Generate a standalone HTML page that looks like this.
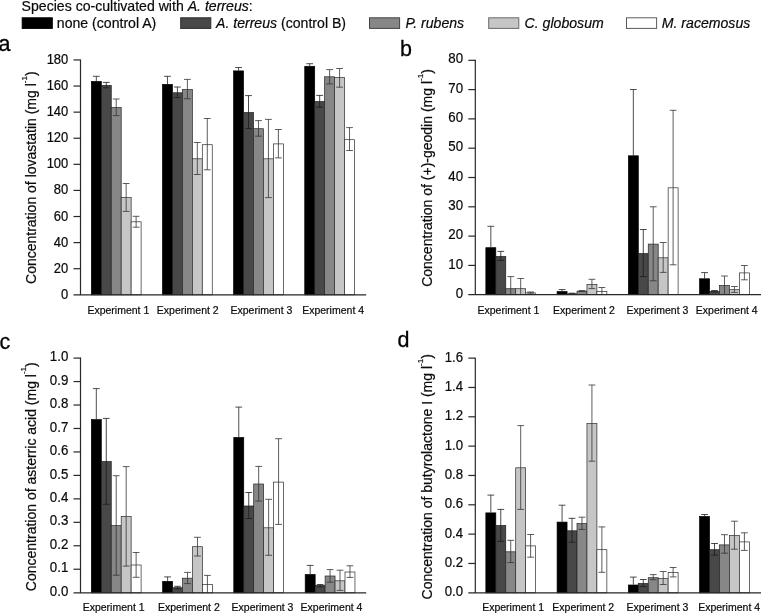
<!DOCTYPE html>
<html lang="en"><head><meta charset="utf-8"><title>Figure</title>
<style>html,body{margin:0;padding:0;background:#fff;}body{width:761px;height:614px;overflow:hidden;}svg{display:block;}text{font-family:"Liberation Sans",sans-serif;fill:#0a0a0a;stroke:#0a0a0a;stroke-width:0.2px;}.i{font-style:italic;}</style></head><body>
<svg width="761" height="614" viewBox="0 0 761 614">
<rect width="761" height="614" fill="#fff"/>
<text x="21.6" y="10.7" font-size="14.1">Species co-cultivated with <tspan class="i">A. terreus</tspan>:</text>
<rect x="22.2" y="17.8" width="30.1" height="10.6" fill="#000000" stroke="#000000" stroke-width="1"/>
<text x="56.8" y="27.5" font-size="14.1">none (control A)</text>
<rect x="180.7" y="17.8" width="30.1" height="10.6" fill="#484848" stroke="#2c2c2c" stroke-width="1"/>
<text x="216.0" y="27.5" font-size="14.1"><tspan class="i">A. terreus</tspan> (control B)</text>
<rect x="369.5" y="17.8" width="30.1" height="10.6" fill="#878787" stroke="#444444" stroke-width="1"/>
<text x="405.6" y="27.5" font-size="14.1"><tspan class="i">P. rubens</tspan></text>
<rect x="488.7" y="17.8" width="30.1" height="10.6" fill="#c6c6c6" stroke="#6a6a6a" stroke-width="1"/>
<text x="524.6" y="27.5" font-size="14.1"><tspan class="i">C. globosum</tspan></text>
<rect x="626.5" y="17.8" width="30.1" height="10.6" fill="#ffffff" stroke="#5a5a5a" stroke-width="1"/>
<text x="661.8" y="27.5" font-size="14.1"><tspan class="i">M. racemosus</tspan></text>
<g id="chart-a">
<text x="-1.4" y="51.2" font-size="21.5" style="fill:#000;stroke:#000;stroke-width:0.28px">a</text>
<rect x="91.35" y="81.40" width="9.95" height="213.40" fill="#000000" stroke="#000000" stroke-width="0.7"/>
<rect x="101.30" y="85.40" width="9.95" height="209.40" fill="#484848" stroke="#1c1c1c" stroke-width="0.7"/>
<rect x="111.25" y="107.50" width="9.95" height="187.30" fill="#878787" stroke="#262626" stroke-width="0.7"/>
<rect x="121.20" y="197.60" width="9.95" height="97.20" fill="#c6c6c6" stroke="#2c2c2c" stroke-width="0.7"/>
<rect x="131.15" y="221.80" width="9.95" height="73.00" fill="#ffffff" stroke="#2c2c2c" stroke-width="0.7"/>
<path d="M96.32 76.30V81.10M92.92 76.30H99.72" stroke="#222" stroke-width="0.8" fill="none"/>
<path d="M106.27 82.40V87.80M102.87 82.40H109.67M102.87 87.80H109.67" stroke="#1c1c1c" stroke-width="0.8" fill="none"/>
<path d="M116.22 99.00V115.60M112.82 99.00H119.62M112.82 115.60H119.62" stroke="#333333" stroke-width="0.8" fill="none"/>
<path d="M126.17 183.50V211.40M122.77 183.50H129.57M122.77 211.40H129.57" stroke="#363636" stroke-width="0.8" fill="none"/>
<path d="M136.12 216.30V227.20M132.72 216.30H139.52M132.72 227.20H139.52" stroke="#333333" stroke-width="0.8" fill="none"/>
<rect x="162.50" y="84.40" width="9.95" height="210.40" fill="#000000" stroke="#000000" stroke-width="0.7"/>
<rect x="172.45" y="92.80" width="9.95" height="202.00" fill="#484848" stroke="#1c1c1c" stroke-width="0.7"/>
<rect x="182.40" y="89.60" width="9.95" height="205.20" fill="#878787" stroke="#262626" stroke-width="0.7"/>
<rect x="192.35" y="158.80" width="9.95" height="136.00" fill="#c6c6c6" stroke="#2c2c2c" stroke-width="0.7"/>
<rect x="202.30" y="144.70" width="9.95" height="150.10" fill="#ffffff" stroke="#2c2c2c" stroke-width="0.7"/>
<path d="M167.47 76.30V84.10M164.07 76.30H170.88" stroke="#222" stroke-width="0.8" fill="none"/>
<path d="M177.42 87.00V97.50M174.02 87.00H180.82M174.02 97.50H180.82" stroke="#1c1c1c" stroke-width="0.8" fill="none"/>
<path d="M187.38 79.40V98.80M183.97 79.40H190.78M183.97 98.80H190.78" stroke="#333333" stroke-width="0.8" fill="none"/>
<path d="M197.32 142.50V174.50M193.92 142.50H200.72M193.92 174.50H200.72" stroke="#363636" stroke-width="0.8" fill="none"/>
<path d="M207.28 118.50V169.80M203.88 118.50H210.68M203.88 169.80H210.68" stroke="#333333" stroke-width="0.8" fill="none"/>
<rect x="233.60" y="70.90" width="9.95" height="223.90" fill="#000000" stroke="#000000" stroke-width="0.7"/>
<rect x="243.55" y="112.50" width="9.95" height="182.30" fill="#484848" stroke="#1c1c1c" stroke-width="0.7"/>
<rect x="253.50" y="128.70" width="9.95" height="166.10" fill="#878787" stroke="#262626" stroke-width="0.7"/>
<rect x="263.45" y="158.80" width="9.95" height="136.00" fill="#c6c6c6" stroke="#2c2c2c" stroke-width="0.7"/>
<rect x="273.40" y="143.90" width="9.95" height="150.90" fill="#ffffff" stroke="#2c2c2c" stroke-width="0.7"/>
<path d="M238.57 67.50V70.60M235.17 67.50H241.97" stroke="#222" stroke-width="0.8" fill="none"/>
<path d="M248.52 95.60V128.60M245.12 95.60H251.92M245.12 128.60H251.92" stroke="#1c1c1c" stroke-width="0.8" fill="none"/>
<path d="M258.48 120.60V136.20M255.08 120.60H261.88M255.08 136.20H261.88" stroke="#333333" stroke-width="0.8" fill="none"/>
<path d="M268.43 119.40V197.60M265.03 119.40H271.82M265.03 197.60H271.82" stroke="#363636" stroke-width="0.8" fill="none"/>
<path d="M278.38 129.50V157.90M274.98 129.50H281.77M274.98 157.90H281.77" stroke="#333333" stroke-width="0.8" fill="none"/>
<rect x="304.75" y="66.30" width="9.95" height="228.50" fill="#000000" stroke="#000000" stroke-width="0.7"/>
<rect x="314.70" y="101.60" width="9.95" height="193.20" fill="#484848" stroke="#1c1c1c" stroke-width="0.7"/>
<rect x="324.65" y="76.80" width="9.95" height="218.00" fill="#878787" stroke="#262626" stroke-width="0.7"/>
<rect x="334.60" y="77.60" width="9.95" height="217.20" fill="#c6c6c6" stroke="#2c2c2c" stroke-width="0.7"/>
<rect x="344.55" y="139.70" width="9.95" height="155.10" fill="#ffffff" stroke="#2c2c2c" stroke-width="0.7"/>
<path d="M309.73 63.70V66.00M306.33 63.70H313.12" stroke="#222" stroke-width="0.8" fill="none"/>
<path d="M319.68 95.40V107.20M316.28 95.40H323.07M316.28 107.20H323.07" stroke="#1c1c1c" stroke-width="0.8" fill="none"/>
<path d="M329.62 69.60V83.90M326.23 69.60H333.02M326.23 83.90H333.02" stroke="#333333" stroke-width="0.8" fill="none"/>
<path d="M339.58 68.50V87.20M336.18 68.50H342.98M336.18 87.20H342.98" stroke="#363636" stroke-width="0.8" fill="none"/>
<path d="M349.53 127.60V150.50M346.13 127.60H352.93M346.13 150.50H352.93" stroke="#333333" stroke-width="0.8" fill="none"/>
<path d="M80.5 59.45V294.8M73.5 294.8H366.2" stroke="#282828" stroke-width="1.2" fill="none"/>
<text transform="translate(68.30 298.80) scale(1 1.11)" font-size="13.0" text-anchor="end">0</text>
<path d="M73.5 268.71H80.5" stroke="#282828" stroke-width="1.2"/>
<text transform="translate(68.30 272.71) scale(1 1.11)" font-size="13.0" text-anchor="end">20</text>
<path d="M73.5 242.61H80.5" stroke="#282828" stroke-width="1.2"/>
<text transform="translate(68.30 246.61) scale(1 1.11)" font-size="13.0" text-anchor="end">40</text>
<path d="M73.5 216.52H80.5" stroke="#282828" stroke-width="1.2"/>
<text transform="translate(68.30 220.52) scale(1 1.11)" font-size="13.0" text-anchor="end">60</text>
<path d="M73.5 190.42H80.5" stroke="#282828" stroke-width="1.2"/>
<text transform="translate(68.30 194.42) scale(1 1.11)" font-size="13.0" text-anchor="end">80</text>
<path d="M73.5 164.33H80.5" stroke="#282828" stroke-width="1.2"/>
<text transform="translate(68.30 168.33) scale(1 1.11)" font-size="13.0" text-anchor="end">100</text>
<path d="M73.5 138.24H80.5" stroke="#282828" stroke-width="1.2"/>
<text transform="translate(68.30 142.24) scale(1 1.11)" font-size="13.0" text-anchor="end">120</text>
<path d="M73.5 112.14H80.5" stroke="#282828" stroke-width="1.2"/>
<text transform="translate(68.30 116.14) scale(1 1.11)" font-size="13.0" text-anchor="end">140</text>
<path d="M73.5 86.05H80.5" stroke="#282828" stroke-width="1.2"/>
<text transform="translate(68.30 90.05) scale(1 1.11)" font-size="13.0" text-anchor="end">160</text>
<path d="M73.5 59.95H80.5" stroke="#282828" stroke-width="1.2"/>
<text transform="translate(68.30 63.95) scale(1 1.11)" font-size="13.0" text-anchor="end">180</text>
<text transform="translate(35.7 177.7) rotate(-90)" font-size="14" text-anchor="middle">Concentration of lovastatin (mg l<tspan font-size="8" dy="-9.2">-1</tspan><tspan dy="9.2">)</tspan></text>
<text x="87.4" y="313.9" font-size="10.5" fill="#000">Experiment 1</text>
<text x="156.8" y="313.9" font-size="10.5" fill="#000">Experiment 2</text>
<text x="230.5" y="313.9" font-size="10.5" fill="#000">Experiment 3</text>
<text x="302.2" y="313.9" font-size="10.5" fill="#000">Experiment 4</text>
</g>
<g id="chart-b">
<text x="400.1" y="56.0" font-size="21.5" style="fill:#000;stroke:#000;stroke-width:0.28px">b</text>
<rect x="485.85" y="247.70" width="9.95" height="47.00" fill="#000000" stroke="#000000" stroke-width="0.7"/>
<rect x="495.80" y="256.50" width="9.95" height="38.20" fill="#484848" stroke="#1c1c1c" stroke-width="0.7"/>
<rect x="505.75" y="288.70" width="9.95" height="6.00" fill="#878787" stroke="#262626" stroke-width="0.7"/>
<rect x="515.70" y="288.70" width="9.95" height="6.00" fill="#c6c6c6" stroke="#2c2c2c" stroke-width="0.7"/>
<rect x="525.65" y="292.90" width="9.95" height="1.80" fill="#ffffff" stroke="#2c2c2c" stroke-width="0.7"/>
<path d="M490.83 226.30V247.40M487.43 226.30H494.23" stroke="#222" stroke-width="0.8" fill="none"/>
<path d="M500.78 251.40V260.40M497.38 251.40H504.18M497.38 260.40H504.18" stroke="#1c1c1c" stroke-width="0.8" fill="none"/>
<path d="M510.73 276.60V294.70M507.33 276.60H514.12" stroke="#333333" stroke-width="0.8" fill="none"/>
<path d="M520.68 278.50V294.70M517.28 278.50H524.08" stroke="#363636" stroke-width="0.8" fill="none"/>
<path d="M530.62 292.00V293.20M527.23 292.00H534.02M527.23 293.20H534.02" stroke="#333333" stroke-width="0.8" fill="none"/>
<rect x="557.10" y="291.60" width="9.95" height="3.10" fill="#000000" stroke="#000000" stroke-width="0.7"/>
<rect x="567.05" y="293.90" width="9.95" height="0.80" fill="#484848" stroke="#1c1c1c" stroke-width="0.7"/>
<rect x="577.00" y="291.20" width="9.95" height="3.50" fill="#878787" stroke="#262626" stroke-width="0.7"/>
<rect x="586.95" y="284.50" width="9.95" height="10.20" fill="#c6c6c6" stroke="#2c2c2c" stroke-width="0.7"/>
<rect x="596.90" y="291.60" width="9.95" height="3.10" fill="#ffffff" stroke="#2c2c2c" stroke-width="0.7"/>
<path d="M562.08 289.60V291.30M558.68 289.60H565.48" stroke="#222" stroke-width="0.8" fill="none"/>
<path d="M572.03 293.20V294.00M568.63 293.20H575.43M568.63 294.00H575.43" stroke="#1c1c1c" stroke-width="0.8" fill="none"/>
<path d="M581.98 290.50V291.50M578.58 290.50H585.38M578.58 291.50H585.38" stroke="#333333" stroke-width="0.8" fill="none"/>
<path d="M591.93 279.30V288.60M588.53 279.30H595.33M588.53 288.60H595.33" stroke="#363636" stroke-width="0.8" fill="none"/>
<path d="M601.88 287.50V294.70M598.48 287.50H605.27" stroke="#333333" stroke-width="0.8" fill="none"/>
<rect x="628.35" y="155.80" width="9.95" height="138.90" fill="#000000" stroke="#000000" stroke-width="0.7"/>
<rect x="638.30" y="253.60" width="9.95" height="41.10" fill="#484848" stroke="#1c1c1c" stroke-width="0.7"/>
<rect x="648.25" y="244.10" width="9.95" height="50.60" fill="#878787" stroke="#262626" stroke-width="0.7"/>
<rect x="658.20" y="257.80" width="9.95" height="36.90" fill="#c6c6c6" stroke="#2c2c2c" stroke-width="0.7"/>
<rect x="668.15" y="187.80" width="9.95" height="106.90" fill="#ffffff" stroke="#2c2c2c" stroke-width="0.7"/>
<path d="M633.33 89.50V155.50M629.93 89.50H636.73" stroke="#222" stroke-width="0.8" fill="none"/>
<path d="M643.28 229.50V276.60M639.88 229.50H646.68M639.88 276.60H646.68" stroke="#1c1c1c" stroke-width="0.8" fill="none"/>
<path d="M653.23 206.80V280.80M649.83 206.80H656.62M649.83 280.80H656.62" stroke="#333333" stroke-width="0.8" fill="none"/>
<path d="M663.18 242.50V272.40M659.78 242.50H666.58M659.78 272.40H666.58" stroke="#363636" stroke-width="0.8" fill="none"/>
<path d="M673.12 110.30V264.80M669.73 110.30H676.52M669.73 264.80H676.52" stroke="#333333" stroke-width="0.8" fill="none"/>
<rect x="699.60" y="278.80" width="9.95" height="15.90" fill="#000000" stroke="#000000" stroke-width="0.7"/>
<rect x="709.55" y="291.40" width="9.95" height="3.30" fill="#484848" stroke="#1c1c1c" stroke-width="0.7"/>
<rect x="719.50" y="285.50" width="9.95" height="9.20" fill="#878787" stroke="#262626" stroke-width="0.7"/>
<rect x="729.45" y="289.70" width="9.95" height="5.00" fill="#c6c6c6" stroke="#2c2c2c" stroke-width="0.7"/>
<rect x="739.40" y="272.90" width="9.95" height="21.80" fill="#ffffff" stroke="#2c2c2c" stroke-width="0.7"/>
<path d="M704.58 272.60V278.50M701.18 272.60H707.98" stroke="#222" stroke-width="0.8" fill="none"/>
<path d="M714.53 290.50V292.00M711.13 290.50H717.93M711.13 292.00H717.93" stroke="#1c1c1c" stroke-width="0.8" fill="none"/>
<path d="M724.48 276.00V294.40M721.08 276.00H727.88" stroke="#333333" stroke-width="0.8" fill="none"/>
<path d="M734.43 286.50V292.40M731.03 286.50H737.83M731.03 292.40H737.83" stroke="#363636" stroke-width="0.8" fill="none"/>
<path d="M744.38 265.50V279.80M740.98 265.50H747.77M740.98 279.80H747.77" stroke="#333333" stroke-width="0.8" fill="none"/>
<path d="M475.3 59.80V294.7M468.3 294.7H761" stroke="#282828" stroke-width="1.2" fill="none"/>
<text transform="translate(463.10 297.80) scale(1 1.11)" font-size="13.3" text-anchor="end">0</text>
<path d="M468.3 265.40H475.3" stroke="#282828" stroke-width="1.2"/>
<text transform="translate(463.10 268.50) scale(1 1.11)" font-size="13.3" text-anchor="end">10</text>
<path d="M468.3 236.10H475.3" stroke="#282828" stroke-width="1.2"/>
<text transform="translate(463.10 239.20) scale(1 1.11)" font-size="13.3" text-anchor="end">20</text>
<path d="M468.3 206.80H475.3" stroke="#282828" stroke-width="1.2"/>
<text transform="translate(463.10 209.90) scale(1 1.11)" font-size="13.3" text-anchor="end">30</text>
<path d="M468.3 177.50H475.3" stroke="#282828" stroke-width="1.2"/>
<text transform="translate(463.10 180.60) scale(1 1.11)" font-size="13.3" text-anchor="end">40</text>
<path d="M468.3 148.20H475.3" stroke="#282828" stroke-width="1.2"/>
<text transform="translate(463.10 151.30) scale(1 1.11)" font-size="13.3" text-anchor="end">50</text>
<path d="M468.3 118.90H475.3" stroke="#282828" stroke-width="1.2"/>
<text transform="translate(463.10 122.00) scale(1 1.11)" font-size="13.3" text-anchor="end">60</text>
<path d="M468.3 89.60H475.3" stroke="#282828" stroke-width="1.2"/>
<text transform="translate(463.10 92.70) scale(1 1.11)" font-size="13.3" text-anchor="end">70</text>
<path d="M468.3 60.30H475.3" stroke="#282828" stroke-width="1.2"/>
<text transform="translate(463.10 63.40) scale(1 1.11)" font-size="13.3" text-anchor="end">80</text>
<text transform="translate(431.8 178.0) rotate(-90)" font-size="14" text-anchor="middle">Concentration of (+)-geodin (mg l<tspan font-size="8" dy="-9.2">-1</tspan><tspan dy="9.2">)</tspan></text>
<text x="477.5" y="313.9" font-size="10.5" fill="#000">Experiment 1</text>
<text x="553.1" y="313.9" font-size="10.5" fill="#000">Experiment 2</text>
<text x="626.5" y="313.9" font-size="10.5" fill="#000">Experiment 3</text>
<text x="695.8" y="313.9" font-size="10.5" fill="#000">Experiment 4</text>
</g>
<g id="chart-c">
<text x="-0.5" y="349.2" font-size="21.5" style="fill:#000;stroke:#000;stroke-width:0.28px">c</text>
<rect x="91.35" y="419.60" width="9.95" height="173.20" fill="#000000" stroke="#000000" stroke-width="0.7"/>
<rect x="101.30" y="461.60" width="9.95" height="131.20" fill="#484848" stroke="#1c1c1c" stroke-width="0.7"/>
<rect x="111.25" y="525.60" width="9.95" height="67.20" fill="#878787" stroke="#262626" stroke-width="0.7"/>
<rect x="121.20" y="516.40" width="9.95" height="76.40" fill="#c6c6c6" stroke="#2c2c2c" stroke-width="0.7"/>
<rect x="131.15" y="565.00" width="9.95" height="27.80" fill="#ffffff" stroke="#2c2c2c" stroke-width="0.7"/>
<path d="M96.32 388.60V419.30M92.92 388.60H99.72" stroke="#222" stroke-width="0.8" fill="none"/>
<path d="M106.27 418.40V504.30M102.87 418.40H109.67M102.87 504.30H109.67" stroke="#1c1c1c" stroke-width="0.8" fill="none"/>
<path d="M116.22 475.70V575.20M112.82 475.70H119.62M112.82 575.20H119.62" stroke="#333333" stroke-width="0.8" fill="none"/>
<path d="M126.17 466.60V566.10M122.77 466.60H129.57M122.77 566.10H129.57" stroke="#363636" stroke-width="0.8" fill="none"/>
<path d="M136.12 552.50V577.30M132.72 552.50H139.52M132.72 577.30H139.52" stroke="#333333" stroke-width="0.8" fill="none"/>
<rect x="162.65" y="581.40" width="9.95" height="11.40" fill="#000000" stroke="#000000" stroke-width="0.7"/>
<rect x="172.60" y="587.70" width="9.95" height="5.10" fill="#484848" stroke="#1c1c1c" stroke-width="0.7"/>
<rect x="182.55" y="578.20" width="9.95" height="14.60" fill="#878787" stroke="#262626" stroke-width="0.7"/>
<rect x="192.50" y="546.70" width="9.95" height="46.10" fill="#c6c6c6" stroke="#2c2c2c" stroke-width="0.7"/>
<rect x="202.45" y="584.50" width="9.95" height="8.30" fill="#ffffff" stroke="#2c2c2c" stroke-width="0.7"/>
<path d="M167.62 576.90V581.10M164.22 576.90H171.03" stroke="#222" stroke-width="0.8" fill="none"/>
<path d="M177.57 586.30V588.80M174.17 586.30H180.97M174.17 588.80H180.97" stroke="#1c1c1c" stroke-width="0.8" fill="none"/>
<path d="M187.53 572.40V583.60M184.12 572.40H190.93M184.12 583.60H190.93" stroke="#333333" stroke-width="0.8" fill="none"/>
<path d="M197.47 537.30V556.00M194.07 537.30H200.88M194.07 556.00H200.88" stroke="#363636" stroke-width="0.8" fill="none"/>
<path d="M207.42 575.40V592.80M204.02 575.40H210.82" stroke="#333333" stroke-width="0.8" fill="none"/>
<rect x="233.80" y="437.50" width="9.95" height="155.30" fill="#000000" stroke="#000000" stroke-width="0.7"/>
<rect x="243.75" y="506.00" width="9.95" height="86.80" fill="#484848" stroke="#1c1c1c" stroke-width="0.7"/>
<rect x="253.70" y="484.00" width="9.95" height="108.80" fill="#878787" stroke="#262626" stroke-width="0.7"/>
<rect x="263.65" y="527.80" width="9.95" height="65.00" fill="#c6c6c6" stroke="#2c2c2c" stroke-width="0.7"/>
<rect x="273.60" y="482.10" width="9.95" height="110.70" fill="#ffffff" stroke="#2c2c2c" stroke-width="0.7"/>
<path d="M238.78 407.10V437.20M235.38 407.10H242.18" stroke="#222" stroke-width="0.8" fill="none"/>
<path d="M248.72 492.50V518.50M245.32 492.50H252.12M245.32 518.50H252.12" stroke="#1c1c1c" stroke-width="0.8" fill="none"/>
<path d="M258.68 466.40V501.10M255.28 466.40H262.07M255.28 501.10H262.07" stroke="#333333" stroke-width="0.8" fill="none"/>
<path d="M268.63 499.30V555.30M265.23 499.30H272.03M265.23 555.30H272.03" stroke="#363636" stroke-width="0.8" fill="none"/>
<path d="M278.58 438.70V524.40M275.18 438.70H281.98M275.18 524.40H281.98" stroke="#333333" stroke-width="0.8" fill="none"/>
<rect x="305.20" y="574.50" width="9.95" height="18.30" fill="#000000" stroke="#000000" stroke-width="0.7"/>
<rect x="315.15" y="585.60" width="9.95" height="7.20" fill="#484848" stroke="#1c1c1c" stroke-width="0.7"/>
<rect x="325.10" y="576.00" width="9.95" height="16.80" fill="#878787" stroke="#262626" stroke-width="0.7"/>
<rect x="335.05" y="580.80" width="9.95" height="12.00" fill="#c6c6c6" stroke="#2c2c2c" stroke-width="0.7"/>
<rect x="345.00" y="572.00" width="9.95" height="20.80" fill="#ffffff" stroke="#2c2c2c" stroke-width="0.7"/>
<path d="M310.18 565.40V574.20M306.78 565.40H313.57" stroke="#222" stroke-width="0.8" fill="none"/>
<path d="M320.12 584.50V586.80M316.73 584.50H323.52M316.73 586.80H323.52" stroke="#1c1c1c" stroke-width="0.8" fill="none"/>
<path d="M330.07 569.60V582.20M326.68 569.60H333.47M326.68 582.20H333.47" stroke="#333333" stroke-width="0.8" fill="none"/>
<path d="M340.03 570.20V590.40M336.63 570.20H343.43M336.63 590.40H343.43" stroke="#363636" stroke-width="0.8" fill="none"/>
<path d="M349.98 565.80V577.40M346.58 565.80H353.38M346.58 577.40H353.38" stroke="#333333" stroke-width="0.8" fill="none"/>
<path d="M80.5 357.60V592.8M73.5 592.8H366.2" stroke="#282828" stroke-width="1.2" fill="none"/>
<text transform="translate(68.30 595.80) scale(1 1.11)" font-size="13.3" text-anchor="end">0.0</text>
<path d="M73.5 569.24H80.5" stroke="#282828" stroke-width="1.2"/>
<text transform="translate(68.30 572.34) scale(1 1.11)" font-size="13.3" text-anchor="end">0.1</text>
<path d="M73.5 545.78H80.5" stroke="#282828" stroke-width="1.2"/>
<text transform="translate(68.30 548.88) scale(1 1.11)" font-size="13.3" text-anchor="end">0.2</text>
<path d="M73.5 522.32H80.5" stroke="#282828" stroke-width="1.2"/>
<text transform="translate(68.30 525.42) scale(1 1.11)" font-size="13.3" text-anchor="end">0.3</text>
<path d="M73.5 498.86H80.5" stroke="#282828" stroke-width="1.2"/>
<text transform="translate(68.30 501.96) scale(1 1.11)" font-size="13.3" text-anchor="end">0.4</text>
<path d="M73.5 475.40H80.5" stroke="#282828" stroke-width="1.2"/>
<text transform="translate(68.30 478.50) scale(1 1.11)" font-size="13.3" text-anchor="end">0.5</text>
<path d="M73.5 451.94H80.5" stroke="#282828" stroke-width="1.2"/>
<text transform="translate(68.30 455.04) scale(1 1.11)" font-size="13.3" text-anchor="end">0.6</text>
<path d="M73.5 428.48H80.5" stroke="#282828" stroke-width="1.2"/>
<text transform="translate(68.30 431.58) scale(1 1.11)" font-size="13.3" text-anchor="end">0.7</text>
<path d="M73.5 405.02H80.5" stroke="#282828" stroke-width="1.2"/>
<text transform="translate(68.30 408.12) scale(1 1.11)" font-size="13.3" text-anchor="end">0.8</text>
<path d="M73.5 381.56H80.5" stroke="#282828" stroke-width="1.2"/>
<text transform="translate(68.30 384.66) scale(1 1.11)" font-size="13.3" text-anchor="end">0.9</text>
<path d="M73.5 358.10H80.5" stroke="#282828" stroke-width="1.2"/>
<text transform="translate(68.30 361.20) scale(1 1.11)" font-size="13.3" text-anchor="end">1.0</text>
<text transform="translate(35.5 476.7) rotate(-90)" font-size="14" text-anchor="middle">Concentration of asterric acid (mg l<tspan font-size="8" dy="-9.2">-1</tspan><tspan dy="9.2">)</tspan></text>
<text x="82.7" y="611.3" font-size="10.5" fill="#000">Experiment 1</text>
<text x="157.9" y="611.3" font-size="10.5" fill="#000">Experiment 2</text>
<text x="231.6" y="611.3" font-size="10.5" fill="#000">Experiment 3</text>
<text x="300.6" y="611.3" font-size="10.5" fill="#000">Experiment 4</text>
</g>
<g id="chart-d">
<text x="397.5" y="346.8" font-size="21.5" style="fill:#000;stroke:#000;stroke-width:0.28px">d</text>
<rect x="485.85" y="512.90" width="9.95" height="79.90" fill="#000000" stroke="#000000" stroke-width="0.7"/>
<rect x="495.80" y="525.50" width="9.95" height="67.30" fill="#484848" stroke="#1c1c1c" stroke-width="0.7"/>
<rect x="505.75" y="551.80" width="9.95" height="41.00" fill="#878787" stroke="#262626" stroke-width="0.7"/>
<rect x="515.70" y="467.80" width="9.95" height="125.00" fill="#c6c6c6" stroke="#2c2c2c" stroke-width="0.7"/>
<rect x="525.65" y="545.90" width="9.95" height="46.90" fill="#ffffff" stroke="#2c2c2c" stroke-width="0.7"/>
<path d="M490.83 495.10V512.60M487.43 495.10H494.23" stroke="#222" stroke-width="0.8" fill="none"/>
<path d="M500.78 509.40V541.40M497.38 509.40H504.18M497.38 541.40H504.18" stroke="#1c1c1c" stroke-width="0.8" fill="none"/>
<path d="M510.73 540.30V562.60M507.33 540.30H514.12M507.33 562.60H514.12" stroke="#333333" stroke-width="0.8" fill="none"/>
<path d="M520.68 425.60V509.40M517.28 425.60H524.08M517.28 509.40H524.08" stroke="#363636" stroke-width="0.8" fill="none"/>
<path d="M530.62 534.50V557.20M527.23 534.50H534.02M527.23 557.20H534.02" stroke="#333333" stroke-width="0.8" fill="none"/>
<rect x="557.10" y="522.10" width="9.95" height="70.70" fill="#000000" stroke="#000000" stroke-width="0.7"/>
<rect x="567.05" y="530.80" width="9.95" height="62.00" fill="#484848" stroke="#1c1c1c" stroke-width="0.7"/>
<rect x="577.00" y="523.60" width="9.95" height="69.20" fill="#878787" stroke="#262626" stroke-width="0.7"/>
<rect x="586.95" y="423.60" width="9.95" height="169.20" fill="#c6c6c6" stroke="#2c2c2c" stroke-width="0.7"/>
<rect x="596.90" y="549.70" width="9.95" height="43.10" fill="#ffffff" stroke="#2c2c2c" stroke-width="0.7"/>
<path d="M562.08 505.20V521.80M558.68 505.20H565.48" stroke="#222" stroke-width="0.8" fill="none"/>
<path d="M572.03 518.30V542.20M568.63 518.30H575.43M568.63 542.20H575.43" stroke="#1c1c1c" stroke-width="0.8" fill="none"/>
<path d="M581.98 517.20V529.40M578.58 517.20H585.38M578.58 529.40H585.38" stroke="#333333" stroke-width="0.8" fill="none"/>
<path d="M591.93 385.00V461.20M588.53 385.00H595.33M588.53 461.20H595.33" stroke="#363636" stroke-width="0.8" fill="none"/>
<path d="M601.88 526.90V572.30M598.48 526.90H605.27M598.48 572.30H605.27" stroke="#333333" stroke-width="0.8" fill="none"/>
<rect x="628.35" y="585.00" width="9.95" height="7.80" fill="#000000" stroke="#000000" stroke-width="0.7"/>
<rect x="638.30" y="583.50" width="9.95" height="9.30" fill="#484848" stroke="#1c1c1c" stroke-width="0.7"/>
<rect x="648.25" y="577.70" width="9.95" height="15.10" fill="#878787" stroke="#262626" stroke-width="0.7"/>
<rect x="658.20" y="578.50" width="9.95" height="14.30" fill="#c6c6c6" stroke="#2c2c2c" stroke-width="0.7"/>
<rect x="668.15" y="572.40" width="9.95" height="20.40" fill="#ffffff" stroke="#2c2c2c" stroke-width="0.7"/>
<path d="M633.33 577.10V584.70M629.93 577.10H636.73" stroke="#222" stroke-width="0.8" fill="none"/>
<path d="M643.28 579.50V586.60M639.88 579.50H646.68M639.88 586.60H646.68" stroke="#1c1c1c" stroke-width="0.8" fill="none"/>
<path d="M653.23 574.60V579.70M649.83 574.60H656.62M649.83 579.70H656.62" stroke="#333333" stroke-width="0.8" fill="none"/>
<path d="M663.18 571.50V584.50M659.78 571.50H666.58M659.78 584.50H666.58" stroke="#363636" stroke-width="0.8" fill="none"/>
<path d="M673.12 567.50V576.90M669.73 567.50H676.52M669.73 576.90H676.52" stroke="#333333" stroke-width="0.8" fill="none"/>
<rect x="699.60" y="516.50" width="9.95" height="76.30" fill="#000000" stroke="#000000" stroke-width="0.7"/>
<rect x="709.55" y="549.70" width="9.95" height="43.10" fill="#484848" stroke="#1c1c1c" stroke-width="0.7"/>
<rect x="719.50" y="544.90" width="9.95" height="47.90" fill="#878787" stroke="#262626" stroke-width="0.7"/>
<rect x="729.45" y="535.60" width="9.95" height="57.20" fill="#c6c6c6" stroke="#2c2c2c" stroke-width="0.7"/>
<rect x="739.40" y="541.90" width="9.95" height="50.90" fill="#ffffff" stroke="#2c2c2c" stroke-width="0.7"/>
<path d="M704.58 514.50V516.20M701.18 514.50H707.98" stroke="#222" stroke-width="0.8" fill="none"/>
<path d="M714.53 543.50V555.10M711.13 543.50H717.93M711.13 555.10H717.93" stroke="#1c1c1c" stroke-width="0.8" fill="none"/>
<path d="M724.48 534.70V553.20M721.08 534.70H727.88M721.08 553.20H727.88" stroke="#333333" stroke-width="0.8" fill="none"/>
<path d="M734.43 521.20V549.20M731.03 521.20H737.83M731.03 549.20H737.83" stroke="#363636" stroke-width="0.8" fill="none"/>
<path d="M744.38 532.80V550.40M740.98 532.80H747.77M740.98 550.40H747.77" stroke="#333333" stroke-width="0.8" fill="none"/>
<path d="M475.3 357.63V592.8M468.3 592.8H761" stroke="#282828" stroke-width="1.2" fill="none"/>
<text transform="translate(463.10 596.30) scale(1 1.11)" font-size="13.2" text-anchor="end">0.0</text>
<path d="M468.3 563.47H475.3" stroke="#282828" stroke-width="1.2"/>
<text transform="translate(463.10 566.97) scale(1 1.11)" font-size="13.2" text-anchor="end">0.2</text>
<path d="M468.3 534.13H475.3" stroke="#282828" stroke-width="1.2"/>
<text transform="translate(463.10 537.63) scale(1 1.11)" font-size="13.2" text-anchor="end">0.4</text>
<path d="M468.3 504.80H475.3" stroke="#282828" stroke-width="1.2"/>
<text transform="translate(463.10 508.30) scale(1 1.11)" font-size="13.2" text-anchor="end">0.6</text>
<path d="M468.3 475.46H475.3" stroke="#282828" stroke-width="1.2"/>
<text transform="translate(463.10 478.96) scale(1 1.11)" font-size="13.2" text-anchor="end">0.8</text>
<path d="M468.3 446.13H475.3" stroke="#282828" stroke-width="1.2"/>
<text transform="translate(463.10 449.63) scale(1 1.11)" font-size="13.2" text-anchor="end">1.0</text>
<path d="M468.3 416.80H475.3" stroke="#282828" stroke-width="1.2"/>
<text transform="translate(463.10 420.30) scale(1 1.11)" font-size="13.2" text-anchor="end">1.2</text>
<path d="M468.3 387.46H475.3" stroke="#282828" stroke-width="1.2"/>
<text transform="translate(463.10 390.96) scale(1 1.11)" font-size="13.2" text-anchor="end">1.4</text>
<path d="M468.3 358.13H475.3" stroke="#282828" stroke-width="1.2"/>
<text transform="translate(463.10 361.63) scale(1 1.11)" font-size="13.2" text-anchor="end">1.6</text>
<text transform="translate(431.8 476.8) rotate(-90)" font-size="14" text-anchor="middle">Concentration of butyrolactone I (mg l<tspan font-size="8" dy="-9.2">-1</tspan><tspan dy="9.2">)</tspan></text>
<text x="482.2" y="611.3" font-size="10.5" fill="#000">Experiment 1</text>
<text x="552.3" y="611.3" font-size="10.5" fill="#000">Experiment 2</text>
<text x="626.5" y="611.3" font-size="10.5" fill="#000">Experiment 3</text>
<text x="698.2" y="611.3" font-size="10.5" fill="#000">Experiment 4</text>
</g>
</svg></body></html>
